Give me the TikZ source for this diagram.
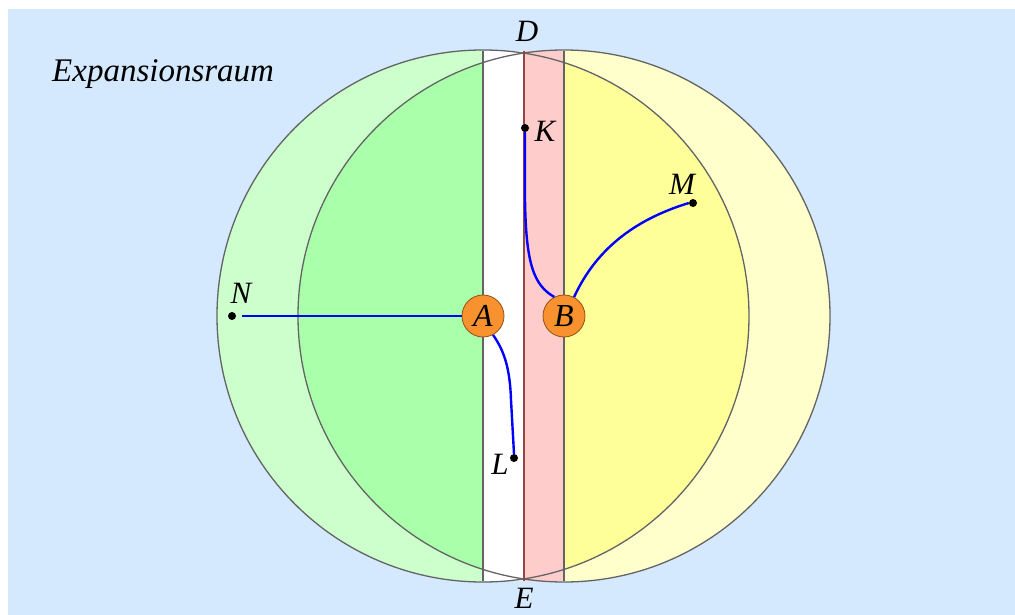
\documentclass[tikz,border=0pt]{standalone}
\usepackage{fontspec}
\setmainfont{Liberation Serif}
\definecolor{bgblue}{RGB}{212,232,254}
\definecolor{lgreen}{RGB}{204,255,204}
\definecolor{dgreen}{RGB}{170,255,170}
\definecolor{lyellow}{RGB}{255,255,204}
\definecolor{dyellow}{RGB}{255,255,153}
\definecolor{pinkstrip}{RGB}{255,204,204}
\definecolor{orangeball}{RGB}{247,146,46}
\definecolor{orangeedge}{RGB}{150,80,20}
\definecolor{edgegray}{RGB}{100,100,100}
\begin{document}
\begin{tikzpicture}[x=1pt,y=-1pt,
  outline/.style={draw=edgegray, line width=1.3pt},
  ball/.style={circle, fill=orangeball, draw=orangeedge, line width=0.8pt, minimum size=42pt, inner sep=0pt, font=\fontsize{32}{34}\selectfont\itshape},
  dot/.style={circle, fill=black, inner sep=0pt, minimum size=8pt},
  lab/.style={font=\fontsize{31}{33}\selectfont\itshape, inner sep=0pt},
  bluecurve/.style={draw=blue, line width=2.4pt}]
\useasboundingbox (0,0) rectangle (1015,615);
\fill[bgblue] (8,9) rectangle (1015,615);
% left part
\begin{scope}
  \clip (0,0) rectangle (483,615);
  \fill[lgreen] (483,316) circle[radius=266pt];
  \clip (564,316) circle[radius=266pt];
  \fill[dgreen] (483,316) circle[radius=266pt];
\end{scope}
% right part
\begin{scope}
  \clip (564,0) rectangle (1015,615);
  \fill[lyellow] (564,316) circle[radius=266pt];
  \clip (483,316) circle[radius=266pt];
  \fill[dyellow] (564,316) circle[radius=266pt];
\end{scope}
% strips
\fill[white] (483,51) rectangle (524,581);
\fill[pinkstrip] (524,51) rectangle (564,581);
% outlines
\draw[outline] (483,316) circle[radius=266pt];
\draw[outline] (564,316) circle[radius=266pt];
\draw[outline] (483,51) -- (483,581);
\draw[outline, draw=edgegray!70!red] (524,51) -- (524,581);
\draw[outline] (564,51) -- (564,581);
% texts
\node[font=\fontsize{33}{35}\selectfont\itshape, inner sep=0pt, anchor=base west] (title) at (52,82) {Expansionsraum};
\node[lab, anchor=base] (Dlab) at (527,42) {D};
\node[lab, anchor=base] (Elab) at (524,608) {E};
% points
\node[dot] (K) at (525,128) {};
\node[dot] (M) at (693,203) {};
\node[dot] (N) at (232,316) {};
\node[dot] (L) at (514,458) {};
\node[lab] (Klab) at (545,131) {K};
\node[lab] (Mlab) at (682,184) {M};
\node[lab] (Nlab) at (241,293) {N};
\node[lab] (Llab) at (500,464) {L};
% balls
\node[ball] (A) at (483,316) {A};
\node[ball] (B) at (564,316) {B};
% curves
\draw[bluecurve, shorten <=6pt] (N) -- (A);
\draw[bluecurve] (A.-62) .. controls (505,352) and (510,370) .. (511,400) -- (L.north);
\draw[bluecurve] (B.117) .. controls (533,285) and (526,262) .. (525,200) -- (K.south);
\draw[bluecurve] (B.62) .. controls (598,245) and (640,218) .. (M.west);
\end{tikzpicture}
\end{document}
